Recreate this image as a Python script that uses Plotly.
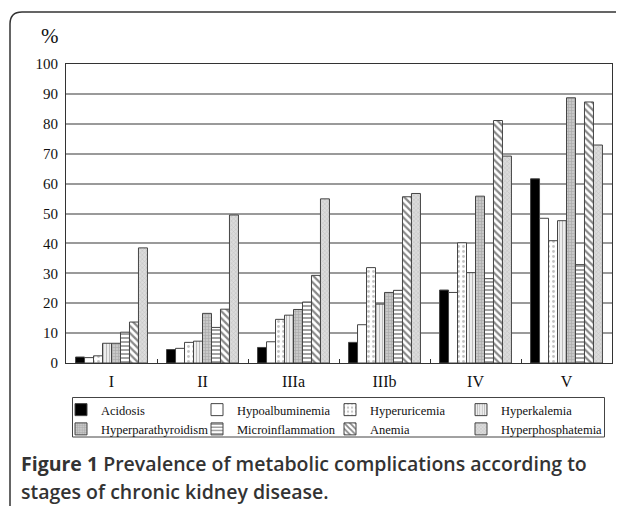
import plotly.graph_objects as go

stages = ["I", "II", "IIIa", "IIIb", "IV", "V"]
acidosis = [2.0, 4.5, 5.2, 6.9, 24.4, 61.6]
hypoalbuminemia = [1.8, 4.9, 7.1, 12.8, 23.6, 48.4]
hyperuricemia = [2.4, 6.9, 14.6, 31.9, 40.2, 40.9]
hyperkalemia = [6.6, 7.3, 16.0, 19.7, 30.2, 47.6]
hyperparathyroidism = [6.6, 16.6, 17.9, 23.6, 55.8, 88.7]
microinflammation = [10.3, 11.9, 20.4, 24.3, 28.2, 32.9]
anemia = [13.7, 18.0, 29.3, 55.6, 81.1, 87.3]
hyperphosphatemia = [38.5, 49.5, 54.9, 56.7, 69.2, 72.9]

yticks = list(range(0, 101, 10))

series = [
    ("Acidosis", acidosis, dict(color="#000000")),
    ("Hypoalbuminemia", hypoalbuminemia, dict(color="#ffffff")),
    ("Hyperuricemia", hyperuricemia,
     dict(color="#ffffff", pattern=dict(shape=".", fgcolor="#888888", bgcolor="#ffffff", size=5, solidity=0.25))),
    ("Hyperkalemia", hyperkalemia,
     dict(color="#ffffff", pattern=dict(shape="|", fgcolor="#777777", bgcolor="#ffffff", size=3, solidity=0.5))),
    ("Hyperparathyroidism", hyperparathyroidism,
     dict(color="#bdbdbd", pattern=dict(shape="+", fgcolor="#8a8a8a", bgcolor="#c8c8c8", size=3, solidity=0.4))),
    ("Microinflammation", microinflammation,
     dict(color="#ffffff", pattern=dict(shape="-", fgcolor="#333333", bgcolor="#ffffff", size=4, solidity=0.45))),
    ("Anemia", anemia,
     dict(color="#ffffff", pattern=dict(shape="\\", fgcolor="#111111", bgcolor="#ffffff", size=5, solidity=0.45))),
    ("Hyperphosphatemia", hyperphosphatemia,
     dict(color="#d0d0d0", pattern=dict(shape="x", fgcolor="#a0a0a0", bgcolor="#dcdcdc", size=3, solidity=0.3))),
]

legend_ids = ["legend", "legend2", "legend3", "legend4"]

fig = go.Figure()
for i, (name, vals, mk) in enumerate(series):
    marker = dict(mk)
    marker["line"] = dict(color="#444444", width=1)
    fig.add_trace(go.Bar(name=name, x=stages, y=vals, marker=marker,
                         legend=legend_ids[i % 4]))

# the page body has an 8px margin; the figure is sized to fill the rest
OFF = 8
W, H = 624 - OFF, 506 - OFF
L, R, T, B = 66 - OFF, 12, 64 - OFF, 143
pw, ph = W - L - R, H - T - B

def px(x):
    # x in page pixels -> paper fraction
    return (x - OFF - L) / pw

def py(y):
    return (H - B - (y - OFF)) / ph

serif = "Liberation Serif"

legend_lefts = [61, 197, 330, 461]
legend_common = dict(
    orientation="v", yanchor="top", xanchor="left", y=py(395),
    borderwidth=0, bgcolor="rgba(0,0,0,0)",
    font=dict(family=serif, size=12.5, color="#111111"),
    traceorder="normal", tracegroupgap=0, itemwidth=30,
)
legends = {lid: dict(legend_common, x=px(lx)) for lid, lx in zip(legend_ids, legend_lefts)}

fig.update_layout(
    width=W, height=H,
    margin=dict(l=L, r=R, t=T, b=B),
    paper_bgcolor="white", plot_bgcolor="white",
    barmode="group", bargap=0.21, bargroupgap=0,
    showlegend=True,
    xaxis=dict(
        showline=True, linecolor="#333333", linewidth=1.2, mirror=True,
        ticks="inside", ticklen=4, tickcolor="#333333", tickson="boundaries",
        tickfont=dict(family=serif, size=16, color="#111111"),
        ticklabelstandoff=4, showgrid=False,
    ),
    yaxis=dict(
        range=[0, 100], tickvals=yticks, showline=True, linecolor="#333333", linewidth=1.2, mirror=True,
        showgrid=True, gridcolor="#9a9a9a", gridwidth=1.5,
        tickfont=dict(family=serif, size=15, color="#111111"),
        ticks="", zeroline=False, ticklabelstandoff=4,
    ),
    font=dict(family=serif),
    **legends,
)

# legend frame
fig.add_shape(type="rect", xref="paper", yref="paper",
              x0=px(72.5), x1=px(604.5), y0=py(437), y1=py(397.5),
              line=dict(color="#444444", width=1), fillcolor="rgba(0,0,0,0)", layer="below")

# outer rounded frame
x0, yt = px(10), py(12)
xr, yb = px(660), py(540)
rx, ry = 12 / pw, 12 / ph
path = (f"M {x0},{yb} L {x0},{yt - ry} Q {x0},{yt} {x0 + rx},{yt} L {xr},{yt}")
fig.add_shape(type="path", path=path, xref="paper", yref="paper",
              line=dict(color="#333333", width=1.5))

fig.add_annotation(text="%", xref="paper", yref="paper", x=px(50), y=py(36),
                   xanchor="center", yanchor="middle",
                   showarrow=False, font=dict(family=serif, size=21, color="#111111"))

cap_font = dict(family="Open Sans", size=19.5, color="#333333", weight=600)
fig.add_annotation(text="<b>Figure 1</b> Prevalence of metabolic complications according to",
                   xref="paper", yref="paper", x=px(19), y=py(463), xanchor="left", yanchor="middle",
                   showarrow=False, font=cap_font)
fig.add_annotation(text="stages of chronic kidney disease.",
                   xref="paper", yref="paper", x=px(19), y=py(491), xanchor="left", yanchor="middle",
                   showarrow=False, font=cap_font)

fig.write_html("out.html")
